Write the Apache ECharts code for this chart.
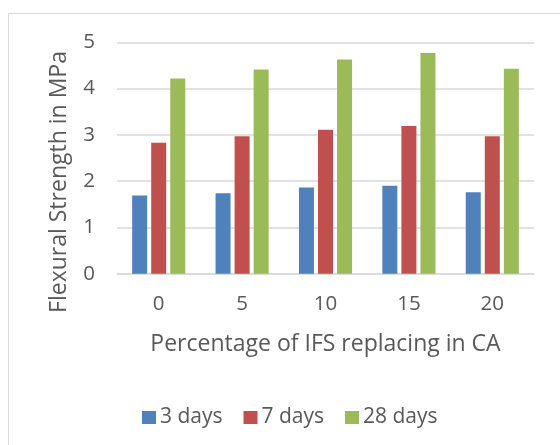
<!DOCTYPE html>
<html>
<head>
<meta charset="utf-8">
<script src="https://cdn.jsdelivr.net/npm/echarts@6/dist/echarts.min.js"></script>
<style>html,body{margin:0;padding:0;background:#fff}#c{width:560px;height:445px}</style>
</head>
<body>
<div id="c"></div>
<script>
const categories = ['0', '5', '10', '15', '20'];
const days3 = [1.69, 1.74, 1.86, 1.90, 1.76];
const days7 = [2.83, 2.97, 3.11, 3.19, 2.97];
const days28 = [4.22, 4.41, 4.63, 4.77, 4.43];
const seriesNames = ['3 days', '7 days', '28 days'];
const xTitle = 'Percentage of IFS replacing in CA';
const yTitle = 'Flexural Strength in MPa';

const FONT = 'Open Sans';
const TXT = '#595959';
const chart = echarts.init(document.getElementById('c'), null, {renderer: 'canvas'});
chart.setOption({
  animation: false,
  backgroundColor: '#fff',
  color: ['#4f81bd', '#c0504d', '#9bbb59'],
  grid: {left: 117, right: 26, top: 42.3, bottom: 171.3, containLabel: false},
  legend: {
    data: seriesNames, left: 142, top: 407, padding: 0, itemWidth: 14, itemHeight: 13, itemGap: 21,
    icon: 'rect', textStyle: {fontFamily: FONT, fontSize: 21, color: TXT, padding: [0,0,0,-1]}
  },
  xAxis: {
    type: 'category', data: categories,
    axisLine: {lineStyle: {color: '#d9d9d9', width: 1.5}},
    axisTick: {show: false},
    axisLabel: {fontFamily: FONT, fontSize: 20.5, color: TXT, margin: 20},
    name: xTitle, nameLocation: 'middle', nameGap: 59,
    nameTextStyle: {fontFamily: FONT, fontSize: 23, color: TXT}
  },
  yAxis: {
    type: 'value', min: 0, max: 5, interval: 1,
    axisLine: {show: false}, axisTick: {show: false},
    splitLine: {lineStyle: {color: '#d9d9d9', width: 1.5}},
    axisLabel: {fontFamily: FONT, fontSize: 20.5, color: TXT, margin: 22}
  },
  graphic: [
    {type: 'rect', shape: {x: 8.5, y: 13.5, width: 600, height: 600}, style: {fill: 'none', stroke: '#d9d9d9', lineWidth: 1}, silent: true},
    {type: 'text', x: 59, y: 182, rotation: Math.PI / 2,
     style: {text: yTitle, fontFamily: FONT, fontSize: 23, fill: TXT, align: 'center', verticalAlign: 'middle'}}
  ],
  series: [
    {name: seriesNames[0], type: 'bar', data: days3, barWidth: 15, barGap: '27%'},
    {name: seriesNames[1], type: 'bar', data: days7, barWidth: 15, barGap: '27%'},
    {name: seriesNames[2], type: 'bar', data: days28, barWidth: 15, barGap: '27%'}
  ]
});
</script>
</body>
</html>
